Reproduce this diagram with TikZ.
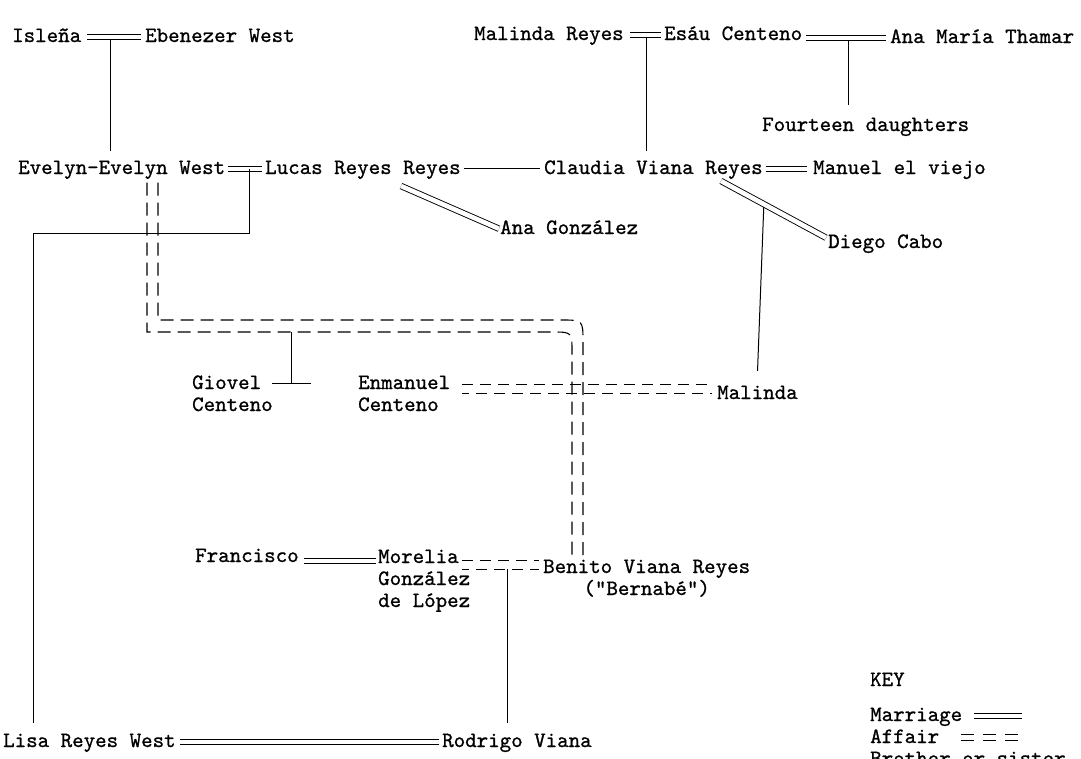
\documentclass[tikz,border=0pt]{standalone}
\usepackage{fontspec}
\usetikzlibrary{calc}
\newfontfamily\twfam{lmmono10-regular}[Extension=.otf, FakeBold=0.9]
\newcommand\twfont{\twfam\fontsize{21.9}{22}\selectfont}
\begin{document}
\begin{tikzpicture}[x=1pt,y=-1pt,
  person/.style={inner sep=0pt, anchor=base west, font=\twfont, text height=14pt, text depth=3.5pt},
  multi/.style={inner sep=0pt, anchor=base west, font=\twfont, align=left},
  hmarr/.style={draw=none,
     postaction={draw=black, line width=0.9pt, transform canvas={yshift=#1}},
     postaction={draw=black, line width=0.9pt, transform canvas={yshift=-#1}}},
  hmarr/.default=2.6pt,
  haff/.style={draw=none,
     postaction={draw=black, line width=1.1pt, dash pattern=on 11pt off 7pt, transform canvas={yshift=#1}},
     postaction={draw=black, line width=1.1pt, dash pattern=on 11pt off 7pt, dash phase=4pt, transform canvas={yshift=-#1}}},
  haff/.default=3pt,
  keyaff/.style={draw=none,
     postaction={draw=black, line width=1.1pt, dash pattern=on 13pt off 9pt, transform canvas={yshift=3pt}},
     postaction={draw=black, line width=1.1pt, dash pattern=on 13pt off 9pt, transform canvas={yshift=-3pt}}},
  dmarr/.style={draw=black, line width=0.9pt, double=white, double distance=4.6pt},
  ldash/.style={draw=black, line width=1.1pt, dash pattern=on 13pt off 7pt},
  kin/.style={draw=black, line width=1pt}]
\useasboundingbox (0,0) rectangle (1081,758);
\clip (0,0) rectangle (1081,758);
\fill[white] (0,0) rectangle (1081,758);

% people
\node[person] (isl) at (12,42) {Isleña};
\node[person] (ebe) at (145,42) {Ebenezer West};
\node[person] (mre) at (474,40) {Malinda Reyes};
\node[person] (esa) at (664,40) {Esáu Centeno};
\node[person] (ana) at (890,43) {Ana María Thamar};
\node[person] (fou) at (762,131) {Fourteen daughters};
\node[person] (eve) at (18,174) {Evelyn-Evelyn West};
\node[person] (luc) at (265,174) {Lucas Reyes Reyes};
\node[person] (cla) at (544,174) {Claudia Viana Reyes};
\node[person] (man) at (813,174) {Manuel el viejo};
\node[person] (ang) at (500,234) {Ana González};
\node[person] (die) at (828,248) {Diego Cabo};
\node[multi] (gio) at (192,411) {Giovel\\Centeno};
\node[multi] (enm) at (358,411) {Enmanuel\\Centeno};
\node[person] (mal) at (717,399) {Malinda};
\node[person] (fra) at (195,562) {Francisco};
\node[multi] (mor) at (378,607) {Morelia\\González\\de López};
\node[multi, align=center] (ben) at (543,595) {Benito Viana Reyes\\("Bernabé")};
\node[person] (lis) at (3,747) {Lisa Reyes West};
\node[person] (rod) at (442,747) {Rodrigo Viana};
\node[person] (key) at (870,686) {KEY};
\node[person] (kma) at (870,721) {Marriage};
\node[person] (kaf) at (870,743) {Affair};
\node[person] (kbs) at (870,765) {Brother or sister};

\coordinate (cdA) at (721,181);

% descent lines
\draw[kin, shorten >=9pt] ($(isl.east -| 110,0)+(0,2)$) -- (eve.north -| 110,0);
\draw[kin, shorten >=9pt] ($(mre.east -| 646,0)+(0,2)$) -- (cla.north -| 646,0);
\draw[kin, shorten >=12pt] ($(esa.east -| 848,0)+(0,5)$) -- (fou.north -| 848,0);
\draw[kin, shorten >=10pt] (eve.east -| 249,0) -- (249,233) -| (lis.north -| 33,0);
\draw[kin, shorten >=14pt] ($(cdA)!0.40!(die.west)$) -- (mal.north -| 757,0);
\draw[kin, shorten >=10pt] (507,569) -- (rod.north -| 507,0);

% affair of Evelyn and Benito
\draw[ldash, shorten <=5pt] (eve.south -| 147,0) -- (147,332) -- (552,332)
   .. controls (572,332) .. (572,352) -- (ben.north -| 572,0);
\draw[ldash, shorten <=5pt] (eve.south -| 158,0) -- (158,320) -- (561,320)
   .. controls (583,320) .. (583,342) -- (ben.north -| 583,0);
% Giovel
\draw[kin] ($(gio.base west)+(99,-28)$) -- ++(0,-51);
\draw[kin] ($(gio.base west)+(80,-28)$) -- ++(39,0);
% other affairs
\path[haff=4.8pt] ($(enm.base west)+(104,-22)$) -- ($(mal.base west)+(-5,-10)$);
\path[haff=4.4pt] ($(mor.base west)+(84,-42)$) -- ($(ben.base west)+(-4,-30)$);

% marriages and siblings
\path[hmarr] ([xshift=6pt]isl.east) -- ([xshift=-4pt]ebe.west);
\path[hmarr] ([xshift=6pt]mre.east) -- ([xshift=-3pt]esa.west);
\path[hmarr] ($(esa.east)+(4,3)$) -- ($(ana.west)+(-4,0)$);
\path[hmarr] ([xshift=3pt]eve.east) -- ([xshift=-3pt]luc.west);
\draw[kin] ([xshift=3pt]luc.east) -- ([xshift=-4pt]cla.west);
\path[hmarr] ([xshift=3pt]cla.east) -- ([xshift=-6pt]man.west);
\draw[dmarr] ($(luc.base west)+(136,12)$) -- ([xshift=-1pt]ang.west);
\draw[dmarr] (cdA) -- ($(die.west)+(-2,-5)$);
\path[hmarr] ($(fra.east)+(5,4)$) -- ($(fra.east -| mor.west)+(-2,4)$);
\path[hmarr] ([xshift=4pt]lis.east) -- ([xshift=-3pt]rod.west);

% key samples
\path[hmarr] ($(kma.east)+(12,0)$) -- ++(48,0);
\path[keyaff] ($(kaf.east)+(22,0)$) -- ++(57,0);
\end{tikzpicture}
\end{document}
